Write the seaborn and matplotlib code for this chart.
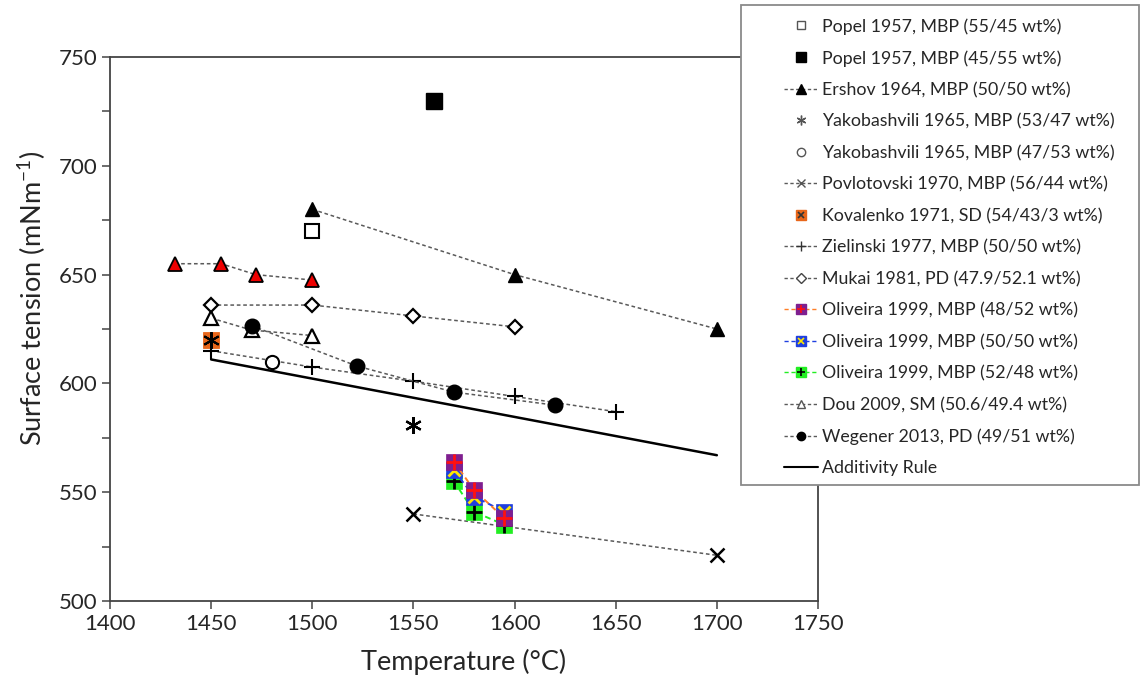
import matplotlib
matplotlib.use("Agg")
import matplotlib.pyplot as plt
from matplotlib.lines import Line2D
from matplotlib.patches import Rectangle
from matplotlib.ticker import MultipleLocator
import seaborn as sns

# ---- measured surface tension of Cu-Fe melts (mN/m) vs temperature (°C) ----
popel_55_T = [1500]
popel_55_s = [670]
popel_45_T = [1560]
popel_45_s = [730]
ershov_T = [1500, 1600, 1700]
ershov_s = [680, 650, 625]
extra_T = [1432, 1455, 1472, 1500]
extra_s = [655, 655, 650, 647.5]
yakob_53_T = [1550]
yakob_53_s = [581]
yakob_47_T = [1480]
yakob_47_s = [610]
povlot_T = [1550, 1700]
povlot_s = [540, 521]
kovalenko_T = [1450]
kovalenko_s = [620]
zielinski_T = [1450, 1500, 1550, 1600, 1650]
zielinski_s = [615, 607.5, 601, 594, 587]
mukai_T = [1450, 1500, 1550, 1600]
mukai_s = [636, 636, 631, 626]
oliveira_T = [1570, 1580, 1595]
oliveira_48_s = [564, 551, 538]
oliveira_50_s = [560, 548, 541]
oliveira_52_s = [555, 541, 535]
dou_T = [1450, 1470, 1500]
dou_s = [630, 624.5, 622]
wegener_T = [1470, 1522, 1570, 1620]
wegener_s = [626.5, 608, 596, 590]
additivity_T = [1450, 1700]
additivity_s = [611, 567]

legend_labels = [
    "Popel 1957, MBP (55/45 wt%)",
    "Popel 1957, MBP (45/55 wt%)",
    "Ershov 1964, MBP (50/50 wt%)",
    "Yakobashvili 1965, MBP (53/47 wt%)",
    "Yakobashvili 1965, MBP (47/53 wt%)",
    "Povlotovski 1970, MBP (56/44 wt%)",
    "Kovalenko 1971, SD (54/43/3 wt%)",
    "Zielinski 1977, MBP (50/50 wt%)",
    "Mukai 1981, PD (47.9/52.1 wt%)",
    "Oliveira 1999, MBP (48/52 wt%)",
    "Oliveira 1999, MBP (50/50 wt%)",
    "Oliveira 1999, MBP (52/48 wt%)",
    "Dou 2009, SM (50.6/49.4 wt%)",
    "Wegener 2013, PD (49/51 wt%)",
    "Additivity Rule",
]

sns.set_style("ticks")
plt.rcParams["font.family"] = ["Lato", "DejaVu Sans"]
plt.rcParams["mathtext.fontset"] = "custom"
plt.rcParams["mathtext.rm"] = "Lato"
plt.rcParams["mathtext.it"] = "Lato:italic"

W, H = 1141, 679
fig = plt.figure(figsize=(W / 100, H / 100), dpi=100)
ax = fig.add_axes([110 / W, 1 - 601 / H, (818 - 110) / W, (601 - 57) / H])

GRAY = "#5a5a5a"
DOT = (0, (2.4, 1.8))
DASH = (0, (3.0, 2.0))
ORANGE = "#ff7f27"
PURPLE = "#7f1f8f"
BLUE = "#1f3fe0"
GREEN = "#22ee22"
KORANGE = "#e8661a"


def series(T, s, **kw):
    kw.setdefault("linestyle", "none")
    sns.lineplot(x=T, y=s, ax=ax, sort=False, estimator=None, legend=False, **kw)


# additivity rule
series(additivity_T, additivity_s, color="black", linestyle="-", linewidth=1.8, zorder=2)

# dotted-line series
series(zielinski_T, zielinski_s, color=GRAY, linestyle=DOT, linewidth=1.1,
       marker="+", markersize=12, markeredgewidth=1.5, markeredgecolor="black", zorder=3)
series(mukai_T, mukai_s, color=GRAY, linestyle=DOT, linewidth=1.1,
       marker="D", markersize=7.5, markerfacecolor="white", markeredgewidth=1.6,
       markeredgecolor="black", zorder=3)
series(dou_T, dou_s, color=GRAY, linestyle=DOT, linewidth=1.1,
       marker="^", markersize=10, markerfacecolor="white", markeredgewidth=1.6,
       markeredgecolor="black", zorder=3)
series(wegener_T, wegener_s, color=GRAY, linestyle=DOT, linewidth=1.1,
       marker="o", markersize=10.5, markerfacecolor="black", markeredgewidth=1,
       markeredgecolor="black", zorder=4)
series(ershov_T, ershov_s, color=GRAY, linestyle=DOT, linewidth=1.1,
       marker="^", markersize=10.5, markerfacecolor="black", markeredgewidth=1,
       markeredgecolor="black", zorder=3)
series(extra_T, extra_s, color=GRAY, linestyle=DOT, linewidth=1.1,
       marker="^", markersize=10.5, markerfacecolor="#ee0000", markeredgewidth=1.3,
       markeredgecolor="black", zorder=3)
series(povlot_T, povlot_s, color=GRAY, linestyle=DOT, linewidth=1.1,
       marker="x", markersize=10, markeredgewidth=1.8, markeredgecolor="black", zorder=3)

# single-point series
series(popel_55_T, popel_55_s, marker="s", markersize=10.5, markerfacecolor="white",
       markeredgewidth=1.5, markeredgecolor="black", zorder=4)
series(popel_45_T, popel_45_s, marker="s", markersize=11, markerfacecolor="black",
       markeredgewidth=1, markeredgecolor="black", zorder=4)
series(yakob_53_T, yakob_53_s, marker=(6, 2, 0), markersize=12, markeredgewidth=1.6,
       markeredgecolor="black", color="black", zorder=4)
series(yakob_47_T, yakob_47_s, marker="o", markersize=9.5, markerfacecolor="white",
       markeredgewidth=1.5, markeredgecolor="black", zorder=4)
series(kovalenko_T, kovalenko_s, marker="s", markersize=11, markerfacecolor=KORANGE,
       markeredgewidth=0.6, markeredgecolor=KORANGE, zorder=4)
series(kovalenko_T, kovalenko_s, marker=(6, 2, 0), markersize=12, markeredgewidth=1.5,
       markeredgecolor="black", color="black", zorder=5)

# Oliveira 1999 series: coloured square with an overlaid cross
series(oliveira_T, oliveira_52_s, color=GREEN, linestyle=DASH, linewidth=1.4,
       marker="s", markersize=11, markerfacecolor=GREEN, markeredgecolor=GREEN,
       markeredgewidth=0.5, zorder=5)
series(oliveira_T, oliveira_52_s, marker="+", markersize=11, markeredgewidth=2,
       markeredgecolor="black", color="black", zorder=6)
series(oliveira_T, oliveira_50_s, color=BLUE, linestyle=DASH, linewidth=1.4,
       marker="s", markersize=11, markerfacecolor=BLUE, markeredgecolor=BLUE,
       markeredgewidth=0.5, zorder=7)
series(oliveira_T, oliveira_50_s, marker="x", markersize=9, markeredgewidth=2,
       markeredgecolor="#ffe600", color="#ffe600", zorder=8)
series(oliveira_T, oliveira_48_s, color=ORANGE, linestyle=DASH, linewidth=1.4,
       marker="s", markersize=11, markerfacecolor=PURPLE, markeredgecolor=PURPLE,
       markeredgewidth=0.5, zorder=9)
series(oliveira_T, oliveira_48_s, marker="+", markersize=11, markeredgewidth=2,
       markeredgecolor="#ff1010", color="#ff1010", zorder=10)

# axes
ax.set_xlim(1400, 1750)
ax.set_ylim(500, 750)
ax.xaxis.set_major_locator(MultipleLocator(50))
ax.yaxis.set_major_locator(MultipleLocator(50))
ax.yaxis.set_minor_locator(MultipleLocator(25))
ax.tick_params(axis="both", which="both", direction="out", length=6, width=1.1,
               color="#444444", labelsize=16, pad=3)
ax.tick_params(axis="x", which="minor", length=0)
for sp in ax.spines.values():
    sp.set_visible(True)
    sp.set_color("#444444")
    sp.set_linewidth(1.3)
ax.set_xlabel("Temperature (°C)", fontsize=19.5, labelpad=11)
ax.set_ylabel("Surface tension (mNm$^{-1}$)", fontsize=19.5)
ax.yaxis.set_label_coords(-0.088, 0.557)

# legend box
fig.add_artist(Rectangle((741 / W, 1 - 485 / H), 398 / W, 480 / H,
                         transform=fig.transFigure, facecolor="white",
                         edgecolor="#8a8a8a", linewidth=1.3, zorder=20))


def proxy(marker, ms=7, mfc="none", mec="black", ls="none", color=GRAY, mew=1.0, lw=1.0):
    return Line2D([], [], marker=marker, markersize=ms, markerfacecolor=mfc,
                  markeredgecolor=mec, linestyle=ls, color=color, markeredgewidth=mew,
                  linewidth=lw)


handles = [
    proxy("s", 6, "white", "#555555"),
    proxy("s", 6.5, "black", "black"),
    proxy("^", 6.5, "black", "black", DOT),
    proxy((6, 2, 0), 7, mec="#555555", color="#555555"),
    proxy("o", 6, "white", "#555555"),
    proxy("x", 6, mec="#555555", ls=DOT),
    (proxy("s", 7, KORANGE, KORANGE), proxy("x", 5, mec="#333333", mew=1.2)),
    proxy("+", 7, mec="#333333", ls=DOT),
    proxy("D", 5, "white", "#444444", DOT),
    (proxy("s", 7, PURPLE, PURPLE, DASH, ORANGE), proxy("+", 6, mec="#ff1010", mew=1.2)),
    (proxy("s", 7, BLUE, BLUE, DASH, BLUE), proxy("x", 5, mec="#ffe600", mew=1.2)),
    (proxy("s", 7, GREEN, GREEN, DASH, GREEN), proxy("+", 6, mec="black", mew=1.2)),
    proxy("^", 6, "white", "#555555", DOT),
    proxy("o", 6, "black", "black", DOT),
    proxy(None, ls="-", color="black", lw=1.5),
]

leg = fig.legend(handles, legend_labels, loc="upper left",
                 bbox_to_anchor=(784 / W, 1 - 18 / H), frameon=False,
                 fontsize=12.8, handlelength=1.91, handletextpad=0.22,
                 labelspacing=0.865, borderpad=0, borderaxespad=0)
leg.set_zorder(21)

fig.savefig("out.png", dpi=100)
